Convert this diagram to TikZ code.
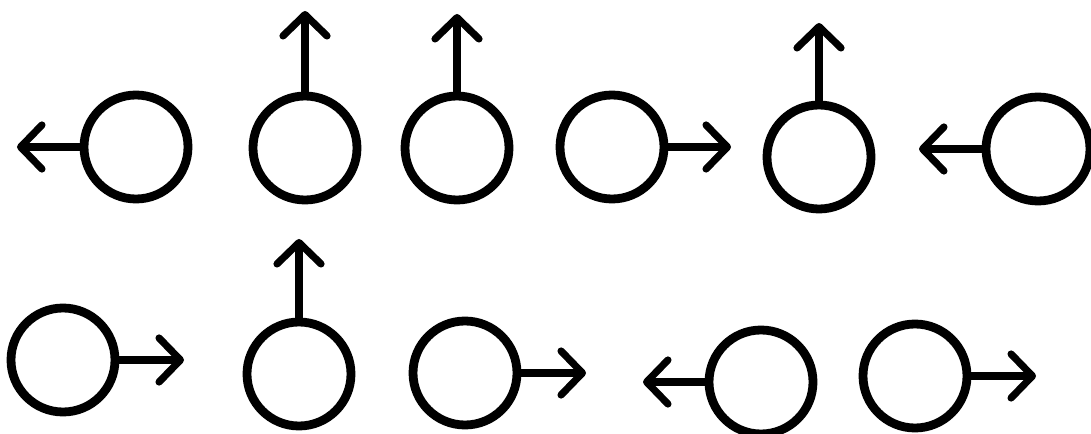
\documentclass[tikz,border=0pt]{standalone}
\usetikzlibrary{arrows.meta}
\begin{document}
\begin{tikzpicture}[x=0.75pt,y=-0.75pt,
  ring/.style={circle,draw=black,line width=6.6pt,minimum size=78pt,inner sep=0pt},
  vec/.style={line width=5.4pt,line cap=round,-{Straight Barb[length=16pt,width=33pt,line cap=round,line join=round]}}]
\useasboundingbox (0,0) rectangle (1091,434);
\fill[white] (0,0) rectangle (1091,434);
% row 1
\node[ring] (c1) at (136,147) {};
\node[ring] (c2) at (305,148) {};
\node[ring] (c3) at (457,148) {};
\node[ring] (c4) at (612,147) {};
\node[ring] (c5) at (819,157) {};
\node[ring] (c6) at (1038,149) {};
% row 2
\node[ring] (c7) at (63,360) {};
\node[ring] (c8) at (299,374) {};
\node[ring] (c9) at (465,373) {};
\node[ring] (c10) at (761,382) {};
\node[ring] (c11) at (915,376) {};
% tips
\coordinate (t1) at (17,147);
\coordinate (t2) at (305,11);
\coordinate (t3) at (457,14);
\coordinate (t4) at (731,147);
\coordinate (t5) at (819,23);
\coordinate (t6) at (919,149);
\coordinate (t7) at (184,360);
\coordinate (t8) at (299,239);
\coordinate (t9) at (586,373);
\coordinate (t10) at (643,382);
\coordinate (t11) at (1036,376);
\draw[vec] (c1.west) -- (t1);
\draw[vec] (c2.north) -- (t2);
\draw[vec] (c3.north) -- (t3);
\draw[vec] (c4.east) -- (t4);
\draw[vec] (c5.north) -- (t5);
\draw[vec] (c6.west) -- (t6);
\draw[vec] (c7.east) -- (t7);
\draw[vec] (c8.north) -- (t8);
\draw[vec] (c9.east) -- (t9);
\draw[vec] (c10.west) -- (t10);
\draw[vec] (c11.east) -- (t11);
\end{tikzpicture}
\end{document}
